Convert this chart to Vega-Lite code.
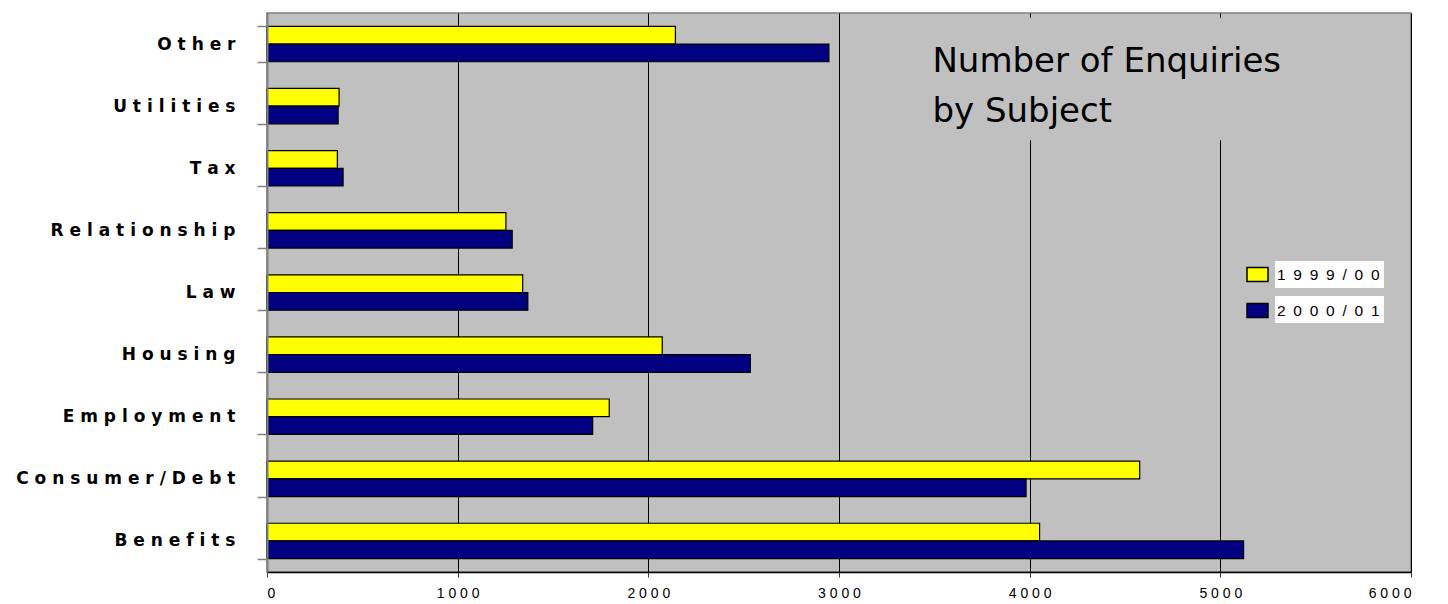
{
  "$schema": "https://vega.github.io/schema/vega-lite/v6.json",
  "width": 1144,
  "height": 559,
  "autosize": "none",
  "padding": {"left": 267, "top": 13, "right": 37, "bottom": 32},
  "background": "white",
  "config": {"view": {"fill": "#C0C0C0", "stroke": "#808080", "strokeWidth": 1.5}},
  "layer": [
    {
      "data": {"values": [{}]},
      "mark": {"type": "rect", "fill": "#C0C0C0"},
      "encoding": {
        "x": {"datum": 3300, "type": "quantitative", "title": null},
        "x2": {"datum": 5600},
        "y": {"datum": "Other", "type": "nominal", "bandPosition": -0.24, "title": null},
        "y2": {"datum": "Utilities", "bandPosition": 1.46}
      }
    },
    {
      "data": {"values": [
        {"subject": "Other", "year": "1999/00", "count": 2142},
        {"subject": "Other", "year": "2000/01", "count": 2947},
        {"subject": "Utilities", "year": "1999/00", "count": 378},
        {"subject": "Utilities", "year": "2000/01", "count": 373},
        {"subject": "Tax", "year": "1999/00", "count": 369},
        {"subject": "Tax", "year": "2000/01", "count": 399},
        {"subject": "Relationship", "year": "1999/00", "count": 1253},
        {"subject": "Relationship", "year": "2000/01", "count": 1286},
        {"subject": "Law", "year": "1999/00", "count": 1341},
        {"subject": "Law", "year": "2000/01", "count": 1368},
        {"subject": "Housing", "year": "1999/00", "count": 2073},
        {"subject": "Housing", "year": "2000/01", "count": 2535},
        {"subject": "Employment", "year": "1999/00", "count": 1795},
        {"subject": "Employment", "year": "2000/01", "count": 1708},
        {"subject": "Consumer/Debt", "year": "1999/00", "count": 4577},
        {"subject": "Consumer/Debt", "year": "2000/01", "count": 3981},
        {"subject": "Benefits", "year": "1999/00", "count": 4052},
        {"subject": "Benefits", "year": "2000/01", "count": 5122}
      ]},
      "mark": {"type": "bar", "stroke": "black", "strokeWidth": 1.2},
      "encoding": {
        "x": {
          "field": "count", "type": "quantitative", "title": null,
          "scale": {"domain": [0, 6000], "nice": false, "zero": true},
          "axis": {
            "values": [0, 1000, 2000, 3000, 4000, 5000, 6000],
            "format": "d",
            "grid": true, "gridColor": "black", "gridWidth": 1, "gridOpacity": 1,
            "domainColor": "black", "domainWidth": 1.5,
            "tickColor": "#404040", "tickSize": 5, "tickWidth": 1,
            "labelFont": "Liberation Sans", "labelFontSize": 14, "labelColor": "black",
            "labelPadding": 9,
            "labelExpr": "join(split(datum.label, ''), ' ')"
          }
        },
        "y": {
          "field": "subject", "type": "nominal", "title": null,
          "scale": {
            "domain": ["Other", "Utilities", "Tax", "Relationship", "Law", "Housing", "Employment", "Consumer/Debt", "Benefits"],
            "paddingInner": 0.43, "paddingOuter": 0.215
          },
          "axis": {
            "tickBand": "extent",
            "domainColor": "#808080", "domainWidth": 2,
            "tickColor": "#808080", "tickWidth": 1.5, "tickSize": 10,
            "labelFont": "DejaVu Sans", "labelFontWeight": "bold", "labelFontSize": 17,
            "labelColor": "black", "labelPadding": 22, "labelLimit": 400,
            "labelExpr": "join(split(datum.label, ''), ' ')"
          }
        },
        "yOffset": {"field": "year", "type": "nominal", "sort": "ascending"},
        "color": {
          "field": "year", "type": "nominal",
          "scale": {"domain": ["1999/00", "2000/01"], "range": ["#FFFF00", "#000080"]},
          "legend": {
            "title": null, "orient": "none", "legendX": 979, "legendY": 250,
            "symbolType": "M-1,-0.67H1V0.67H-1Z", "symbolSize": 441,
            "symbolStrokeColor": "black", "symbolStrokeWidth": 1.5, "symbolOpacity": 1,
            "labelFont": "Liberation Sans", "labelFontSize": 15.5, "labelColor": "black",
            "labelOffset": 8, "rowPadding": 14, "padding": 0,
            "labelExpr": "join(split(datum.label, ''), '\u2002')"
          }
        }
      }
    },
    {
      "data": {"values": [{}]},
      "mark": {"type": "rect", "fill": "white"},
      "encoding": {
        "x": {"datum": 5287, "type": "quantitative", "title": null},
        "x2": {"datum": 5858},
        "y": {"datum": "Law", "type": "nominal", "bandPosition": -0.39, "title": null},
        "y2": {"datum": "Law", "bandPosition": 0.373}
      }
    },
    {
      "data": {"values": [{}]},
      "mark": {"type": "rect", "fill": "white"},
      "encoding": {
        "x": {"datum": 5287, "type": "quantitative", "title": null},
        "x2": {"datum": 5858},
        "y": {"datum": "Law", "type": "nominal", "bandPosition": 0.6, "title": null},
        "y2": {"datum": "Law", "bandPosition": 1.362}
      }
    },
    {
      "data": {"values": [{}]},
      "mark": {
        "type": "text", "text": ["Number of Enquiries", "by Subject"],
        "align": "left", "baseline": "alphabetic",
        "font": "DejaVu Sans", "fontSize": 34, "lineHeight": 50, "dy": 28,
        "color": "black"
      },
      "encoding": {
        "x": {"datum": 3490, "type": "quantitative", "title": null},
        "y": {"datum": "Other", "type": "nominal", "title": null}
      }
    }
  ]
}
